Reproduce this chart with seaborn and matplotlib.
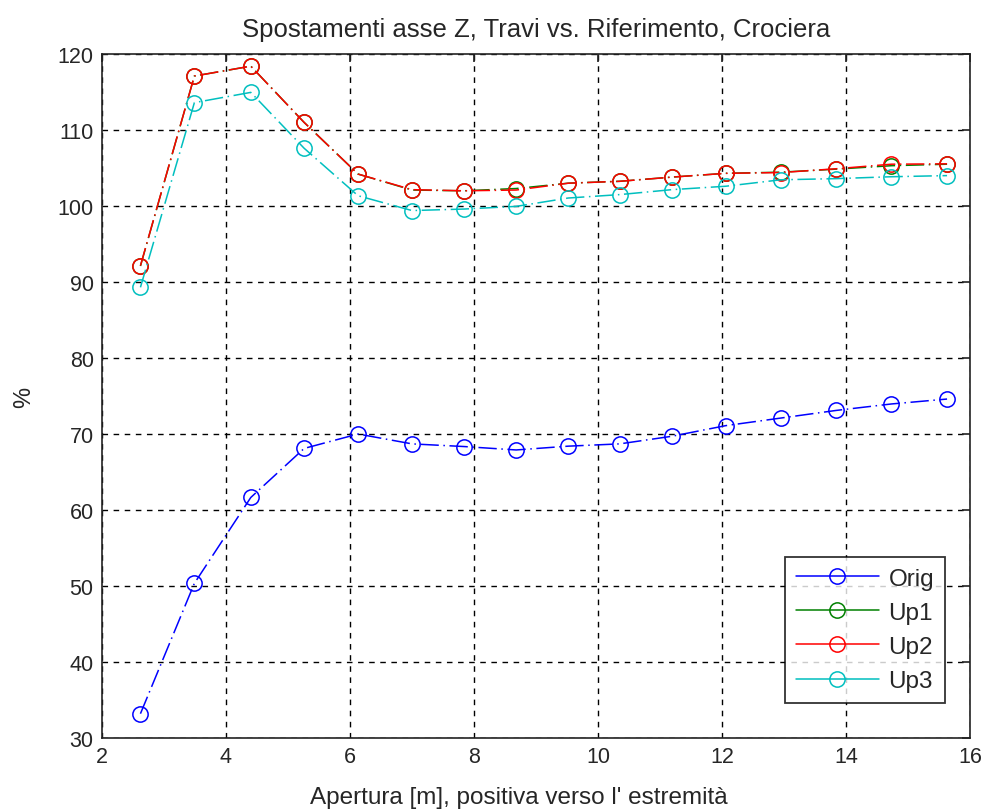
import matplotlib
matplotlib.use("Agg")
import matplotlib.pyplot as plt
import seaborn as sns
import pandas as pd

apertura = [2.62, 3.49, 4.40, 5.26, 6.13, 7.00, 7.84, 8.68,
            9.52, 10.35, 11.19, 12.06, 12.95, 13.84, 14.73, 15.63]
orig = [33.2, 50.35, 61.65, 68.1, 70.0, 68.7, 68.35, 67.9,
        68.4, 68.7, 69.7, 71.1, 72.1, 73.1, 73.95, 74.6]
up1 = [92.1, 117.1, 118.4, 111.0, 104.2, 102.1, 102.0, 102.3,
       103.0, 103.25, 103.8, 104.3, 104.45, 104.85, 105.3, 105.5]
up2 = [92.15, 117.1, 118.4, 111.0, 104.2, 102.15, 102.0, 102.1,
       103.0, 103.25, 103.8, 104.3, 104.4, 104.9, 105.5, 105.55]
up3 = [89.3, 113.6, 114.95, 107.6, 101.35, 99.4, 99.6, 99.95,
       101.05, 101.5, 102.15, 102.6, 103.45, 103.6, 103.85, 104.0]

series_names = ["Orig", "Up1", "Up2", "Up3"]
series_vals = [orig, up1, up2, up3]
series_colors = ["#0000ff", "#008000", "#ff0000", "#00bfbf"]

title = "Spostamenti asse Z, Travi vs. Riferimento, Crociera"
xlabel = "Apertura [m], positiva verso l' estremità"
ylabel = "%"

sns.set_style("white")
plt.rcParams["font.family"] = ["Liberation Sans", "DejaVu Sans"]

fig = plt.figure(figsize=(9.89, 8.12), dpi=100)
ax = fig.add_axes([102/989, 1-739/812, (970-102)/989, (739-55)/812])

for name, vals, col in zip(series_names, series_vals, series_colors):
    df = pd.DataFrame({"x": apertura, "y": vals})
    sns.lineplot(data=df, x="x", y="y", ax=ax, color=col, label=name,
                 marker="o", markersize=11, markerfacecolor="none",
                 markeredgecolor=col, markeredgewidth=1.1,
                 linewidth=1.1, linestyle=(0, (12, 3, 1, 3)), sort=False)

ax.set_xlim(2, 16)
ax.set_ylim(30, 120)
ax.set_xticks(range(2, 17, 2))
ax.set_yticks(range(30, 121, 10))
ax.grid(True, color="black", linestyle=(0, (4, 4)), linewidth=1.0)
for s in ax.spines.values():
    s.set_color("#222222")
    s.set_linewidth(1.2)
ax.tick_params(axis="both", direction="in", length=6, width=1.2,
               labelsize=15.5, top=True, right=True, color="#222222", pad=6)
ax.set_title(title, fontsize=18.5, pad=13)
ax.set_xlabel(xlabel, fontsize=17.5)
ax.xaxis.set_label_coords(0.48, -0.07)
ax.xaxis.label.set_va("top")
ax.set_ylabel(ylabel, fontsize=17, labelpad=16)

leg = ax.legend(loc="lower right", bbox_to_anchor=(945/989, 1-704/812),
                bbox_transform=fig.transFigure, fontsize=17.5, frameon=True,
                fancybox=False, edgecolor="black", handlelength=3.4,
                borderpad=0.45, labelspacing=0.5, handletextpad=0.4,
                borderaxespad=0)
leg.get_frame().set_linewidth(1.3)
for h in leg.get_lines():
    h.set_linestyle("-")

fig.savefig("out.png", dpi=100, facecolor="white")
